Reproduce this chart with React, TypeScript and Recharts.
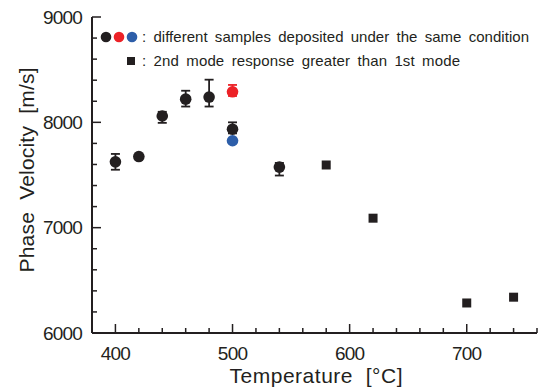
import { ScatterChart, Scatter, XAxis, YAxis, ErrorBar, Customized } from "recharts";

const INK = "#231f20";
const RED = "#ec2227";
const BLUE = "#2d5ea9";
const FONT = "'Liberation Sans', Arial, sans-serif";

// black circles: different samples, with error bars [below, above]
const circleTemp = [400, 420, 440, 460, 480, 500, 540];
const circleVel = [7625, 7675, 8060, 8220, 8240, 7935, 7575];
const circleErrLow = [75, 0, 65, 70, 90, 40, 80];
const circleErrHigh = [75, 0, 40, 80, 165, 65, 40];

// coloured samples at 500 °C
const redTemp = [500];
const redVel = [8290];
const redErrLow = [40];
const redErrHigh = [65];
const blueTemp = [500];
const blueVel = [7825];

// squares: 2nd mode response greater than 1st mode
const squareTemp = [580, 620, 700, 740];
const squareVel = [7595, 7090, 6285, 6340];

const xTicks = [380, 400, 420, 440, 460, 480, 500, 520, 540, 560, 580, 600, 620, 640, 660, 680, 700, 720, 740, 760];
const xMajor = [400, 500, 600, 700];
const yTicks = [6000, 6200, 6400, 6600, 6800, 7000, 7200, 7400, 7600, 7800, 8000, 8200, 8400, 8600, 8800, 9000];
const yMajor = [6000, 7000, 8000, 9000];

const legendCircles = [INK, RED, BLUE];
const legendText1 = ": different samples deposited under the same condition";
const legendText2 = ": 2nd mode response greater than 1st mode";

const circleData = circleTemp.map((t, i) => ({ t, v: circleVel[i], err: [circleErrLow[i], circleErrHigh[i]] }));
const redData = redTemp.map((t, i) => ({ t, v: redVel[i], err: [redErrLow[i], redErrHigh[i]] }));
const blueData = blueTemp.map((t, i) => ({ t, v: blueVel[i] }));
const squareData = squareTemp.map((t, i) => ({ t, v: squareVel[i] }));

const labelStyle = { fontFamily: FONT, fontSize: 19, fill: INK, letterSpacing: -0.8 };

const BottomTick = ({ x, y, payload }: any) => {
  const major = xMajor.includes(payload.value);
  return (
    <g>
      <line x1={x} x2={x} y1={y} y2={y - (major ? 9 : 5)} stroke={INK} strokeWidth={1.5} />
      {major && (
        <text x={x} y={y + 27} textAnchor="middle" style={labelStyle}>
          {payload.value}
        </text>
      )}
    </g>
  );
};

const TopTick = ({ x, y, payload }: any) => {
  const major = xMajor.includes(payload.value);
  return <line x1={x} x2={x} y1={y} y2={y + (major ? 9 : 5)} stroke={INK} strokeWidth={1.5} />;
};

const LeftTick = ({ x, y, payload }: any) => {
  const major = yMajor.includes(payload.value);
  return (
    <g>
      <line x1={x} x2={x + (major ? 9 : 5)} y1={y} y2={y} stroke={INK} strokeWidth={1.5} />
      {major && (
        <text x={x - 10} y={y} textAnchor="end" dominantBaseline="central" style={labelStyle}>
          {payload.value}
        </text>
      )}
    </g>
  );
};

const RightTick = ({ x, y, payload }: any) => {
  const major = yMajor.includes(payload.value);
  return <line x1={x} x2={x - (major ? 9 : 5)} y1={y} y2={y} stroke={INK} strokeWidth={1.5} />;
};

const Dot = (color: string) => (p: any) => <circle cx={p.cx} cy={p.cy} r={5.8} fill={color} />;
const Square = (p: any) => <rect x={p.cx - 4.5} y={p.cy - 4.5} width={9} height={9} fill={INK} />;

const Extras = () => (
  <g fontFamily={FONT} fill={INK}>
    {legendCircles.map((c, i) => (
      <circle key={c} cx={106 + i * 13} cy={37} r={5.3} fill={c} />
    ))}
    <text x={142} y={42} fontSize={15} wordSpacing={3} textLength={387} lengthAdjust="spacing">
      {legendText1}
    </text>
    <rect x={127} y={57} width={8} height={8} fill={INK} />
    <text x={142} y={66} fontSize={15} wordSpacing={3} textLength={318} lengthAdjust="spacing">
      {legendText2}
    </text>
    <text
      x={316}
      y={383}
      fontSize={21}
      textAnchor="middle"
      style={{ whiteSpace: "pre" }}
      textLength={173}
      lengthAdjust="spacing"
    >
      {"Temperature  [°C]"}
    </text>
    <text
      x={26}
      y={170}
      fontSize={21}
      textAnchor="middle"
      dominantBaseline="central"
      transform="rotate(-90 26 170)"
      style={{ whiteSpace: "pre" }}
      textLength={205}
      lengthAdjust="spacing"
    >
      {"Phase  Velocity  [m/s]"}
    </text>
  </g>
);

export default function App() {
  return (
    <div style={{ position: "absolute", left: 0, top: 0, background: "#fff" }}>
      <ScatterChart width={543} height={391} margin={{ top: 17, right: 6, bottom: 0, left: 0 }}>
        <XAxis
          xAxisId="b"
          dataKey="t"
          type="number"
          domain={[380, 760]}
          ticks={xTicks}
          interval={0}
          height={58}
          tickSize={0}
          tickMargin={0}
          tick={<BottomTick />}
          axisLine={{ stroke: INK, strokeWidth: 2 }}
          tickLine={false}
        />
        <XAxis
          xAxisId="t"
          orientation="top"
          type="number"
          domain={[380, 760]}
          ticks={xTicks}
          interval={0}
          height={0}
          tickSize={0}
          tickMargin={0}
          tick={<TopTick />}
          axisLine={{ stroke: INK, strokeWidth: 2 }}
          tickLine={false}
        />
        <YAxis
          yAxisId="l"
          dataKey="v"
          type="number"
          domain={[6000, 9000]}
          ticks={yTicks}
          interval={0}
          width={92}
          tickSize={0}
          tickMargin={0}
          tick={<LeftTick />}
          axisLine={{ stroke: INK, strokeWidth: 2 }}
          tickLine={false}
        />
        <YAxis
          yAxisId="r"
          orientation="right"
          type="number"
          domain={[6000, 9000]}
          ticks={yTicks}
          interval={0}
          width={0}
          tickSize={0}
          tickMargin={0}
          tick={<RightTick />}
          axisLine={{ stroke: INK, strokeWidth: 2 }}
          tickLine={false}
        />
        <Scatter xAxisId="b" yAxisId="l" data={circleData} shape={Dot(INK)} isAnimationActive={false}>
          <ErrorBar dataKey="err" direction="y" width={4.5} stroke={INK} strokeWidth={1.8} />
        </Scatter>
        <Scatter xAxisId="b" yAxisId="l" data={redData} shape={Dot(RED)} isAnimationActive={false}>
          <ErrorBar dataKey="err" direction="y" width={4.5} stroke={RED} strokeWidth={1.8} />
        </Scatter>
        <Scatter xAxisId="b" yAxisId="l" data={blueData} shape={Dot(BLUE)} isAnimationActive={false} />
        <Scatter xAxisId="b" yAxisId="l" data={squareData} shape={Square} isAnimationActive={false} />
        <Customized component={Extras} />
      </ScatterChart>
    </div>
  );
}
